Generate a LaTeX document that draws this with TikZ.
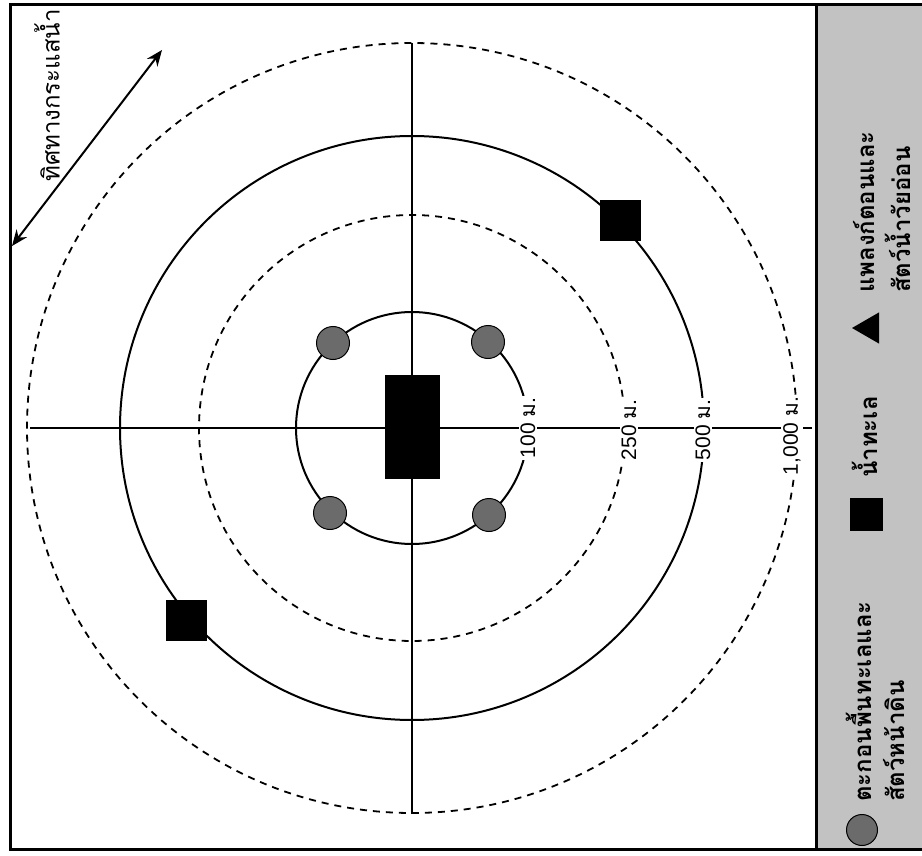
\documentclass[tikz,border=0pt]{standalone}
\usepackage{fontspec}
\setmainfont{Liberation Sans}
\newfontfamily\thaifont[Script=Thai]{Loma}
\usetikzlibrary{positioning,arrows.meta,shapes.geometric}

\begin{document}
\begin{tikzpicture}[x=1pt,y=-1pt,
      every node/.style={font=\fontsize{21}{24}\selectfont},
      ring/.style={line width=2pt},
      dashring/.style={line width=1.8pt,dash pattern=on 7pt off 6pt},
      axis/.style={line width=1.6pt},
      dist/.style={fill=white,inner sep=2pt,rotate=90},
      grab/.style={circle,draw,line width=1pt,fill=black!58,minimum size=33pt,inner sep=0pt},
      wbox/.style={draw,fill=black,minimum size=40pt,inner sep=0pt},
      lgtext/.style={rotate=90,anchor=west,inner sep=0pt,font=\thaifont\bfseries\fontsize{24}{28}\selectfont}]
    \useasboundingbox (0,0) rectangle (922,856);
    % legend band and frame
    \fill[black!24] (816,5) rectangle (922,849);
    \draw[line width=3pt] (922,5) -- (10,5) -- (10,849) -- (922,849);
    \draw[line width=3pt] (816,5) -- (816,849);
    % centre of the station and the two axes
    \coordinate (c) at (412,428);
    \coordinate (axW) at (30,428);
    \coordinate (axE) at (812,428);
    \coordinate (axN) at (412,43);
    \coordinate (axS) at (412,814);
    \draw[axis] (axW) -- (axE);
    \draw[axis] (axN) -- (axS);
    % distance rings
    \draw[ring] (c) circle[radius=116];
    \draw[dashring] (c) circle[radius=213];
    \draw[ring] (c) circle[radius=292];
    \draw[dashring] (c) circle[radius=385];
    % ring labels
    \node[dist] (d100) at (528,428) {100 {\thaifont ม.}};
    \node[dist] (d250) at (629,430) {250 {\thaifont ม.}};
    \node[dist] (d500) at (703,430) {500 {\thaifont ม.}};
    \node[dist] (d1000) at (792,436) {1,000 {\thaifont ม.}};
    % sampling points
    \node[wbox,minimum width=54pt,minimum height=103pt] (pump) at (412,427) {};
    \node[grab] (g1) at (333,343) {};
    \node[grab] (g2) at (488,342) {};
    \node[grab] (g3) at (330,513) {};
    \node[grab] (g4) at (489,515) {};
    \node[wbox] (sqNE) at (620,220) {};
    \node[wbox] (sqSW) at (186,620) {};
    % current direction
    \node[lgtext,font=\thaifont\fontsize{24}{28}\selectfont] (flow) at (47,182) {ทิศทางกระแสน้ำ};
    \coordinate (flowA) at (12,246);
    \coordinate (flowB) at (162,50);
    \draw[<->,>={Stealth[length=16pt,width=13pt]},line width=2pt] (flowA) -- (flowB);
    % legend
    \node[grab,minimum size=31pt] (lgDot) at (862,830) {};
    \node[lgtext] (lgDotA) at (859,802) {ตะกอนพื้นทะเลและ};
    \node[lgtext] (lgDotB) at (894,802) {สัตว์หน้าดิน};
    \node[wbox,minimum size=32pt] (lgBox) at (866,514) {};
    \node[lgtext] (lgBoxA) at (865,478) {น้ำทะเล};
    \node[regular polygon,regular polygon sides=3,rotate=90,fill=black,minimum size=36pt,inner sep=0pt] (lgTri) at (870,328) {};
    \node[lgtext] (lgTriA) at (864,293) {แพลงก์ตอนและ};
    \node[lgtext] (lgTriB) at (898,293) {สัตว์น้ำวัยอ่อน};
  \end{tikzpicture}
\end{document}
